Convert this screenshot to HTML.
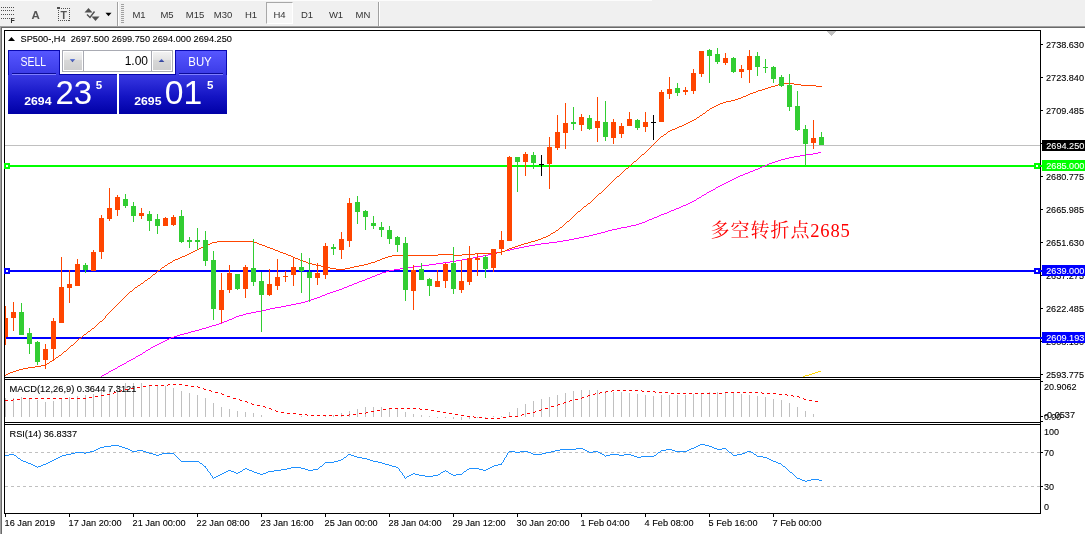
<!DOCTYPE html>
<html>
<head>
<meta charset="utf-8">
<title>SP500-,H4</title>
<style>
html,body{margin:0;padding:0;background:#fff;}
body{width:1085px;height:534px;position:relative;overflow:hidden;font-family:"Liberation Sans",sans-serif;font-size:9px;color:#000;}
#toolbar{position:absolute;left:0;top:0;width:1085px;height:26px;background:#f0f0f0;border-top:1px solid #f0f0f0;box-sizing:border-box;}
#hl{position:absolute;left:0;top:0;width:652px;height:1px;background:#fcfcfc;}
#sep1{position:absolute;left:0;top:26px;width:1085px;height:1px;background:#a0a0a0;}
#sep2{position:absolute;left:1px;top:27px;width:1084px;height:1px;background:#696969;}
#lb1{position:absolute;left:0;top:26px;width:1px;height:508px;background:#a0a0a0;}
#lb2{position:absolute;left:1px;top:27px;width:1px;height:507px;background:#696969;}
.tf{position:absolute;top:2px;height:22px;width:28px;line-height:24px;text-align:center;color:#333;font-size:9.5px;box-sizing:border-box;}
.tf.on{top:1px;border:1px solid;border-color:#a8a8a8 #fff #fff #a8a8a8;background:#f7f7f7;line-height:24px;}
.vsep{position:absolute;top:1px;width:1px;height:25px;background:#a0a0a0;box-shadow:1px 0 0 #fff;}
#grip{position:absolute;left:121px;top:3px;width:3px;height:19px;background:repeating-linear-gradient(to bottom,#a0a0a0 0,#a0a0a0 1px,#f0f0f0 1px,#f0f0f0 2px);}
</style>
</head>
<body>
<div id="toolbar">
  <svg width="120" height="26" style="position:absolute;left:0;top:-1px">
    <g stroke="#505050" stroke-width="1" stroke-dasharray="1 1" shape-rendering="crispEdges">
      <line x1="1" y1="7.5" x2="15" y2="7.5"/><line x1="1" y1="10.5" x2="15" y2="10.5"/><line x1="1" y1="14.5" x2="15" y2="14.5"/><line x1="1" y1="18.5" x2="11" y2="18.5"/>
    </g>
    <text x="10.5" y="22.6" font-family="'Liberation Sans',sans-serif" font-size="7px" font-weight="bold" fill="#303030">F</text>
    <text x="31.6" y="18.6" font-family="'Liberation Sans',sans-serif" font-size="11.5px" font-weight="bold" fill="#555">A</text>
    <rect x="58.5" y="8.5" width="11" height="12" fill="none" stroke="#505050" stroke-dasharray="1 1" shape-rendering="crispEdges"/>
    <rect x="57" y="7" width="3" height="2" fill="#505050"/>
    <text x="60.6" y="19" font-family="'Liberation Sans',sans-serif" font-size="10.5px" font-weight="bold" fill="#555">T</text>
    <polygon points="84.5,12.5 92.5,12.5 88.5,8" fill="#505050"/>
    <polygon points="91.5,16.5 99.5,16.5 95.5,21" fill="#505050"/>
    <polyline points="87,14.5 90,17.5 94.5,11.5" fill="none" stroke="#505050" stroke-width="1.4"/>
    <polygon points="105.5,12.8 111.5,12.8 108.5,16.3" fill="#000"/>
  </svg>
  <div class="vsep" style="left:117px"></div>
  <div id="grip"></div>
  <div class="tf" style="left:125px">M1</div>
  <div class="tf" style="left:153px">M5</div>
  <div class="tf" style="left:181px">M15</div>
  <div class="tf" style="left:209px">M30</div>
  <div class="tf" style="left:237px">H1</div>
  <div class="tf on" style="left:266px;width:27px">H4</div>
  <div class="tf" style="left:293px">D1</div>
  <div class="tf" style="left:322px">W1</div>
  <div class="tf" style="left:349px">MN</div>
  <div class="vsep" style="left:378px"></div>
</div>
<div id="hl"></div><div id="sep1"></div><div id="sep2"></div><div id="lb1"></div><div id="lb2"></div>
<svg class="chart" width="1085" height="534" viewBox="0 0 1085 534" style="position:absolute;left:0;top:0" font-family="'Liberation Sans', sans-serif" font-size="9.5px">
<defs><clipPath id="cm"><rect x="5" y="31" width="1035" height="346"/></clipPath><clipPath id="cd"><rect x="5" y="380" width="1035" height="42"/></clipPath><clipPath id="cr"><rect x="5" y="425" width="1035" height="88"/></clipPath></defs>
<g clip-path="url(#cm)" shape-rendering="crispEdges">
<rect x="5" y="145" width="1035" height="1" fill="#c0c0c0"/>
<rect x="5" y="165" width="1035" height="2" fill="#00ff00"/>
<rect x="5" y="270" width="1035" height="2" fill="#0000ff"/>
<rect x="5" y="337" width="1035" height="2" fill="#0000ff"/>
<polygon points="827,31 836,31 831.5,36" fill="#c0c0c0"/>
<path d="M101 376h1v1h-1zM102 375h2v1h-2zM104 374h2v1h-2zM106 373h2v1h-2zM108 372h1v1h-1zM109 371h2v1h-2zM111 370h2v1h-2zM113 369h2v1h-2zM115 368h2v1h-2zM117 367h1v1h-1zM118 366h2v1h-2zM120 365h2v1h-2zM122 364h2v1h-2zM124 363h2v1h-2zM126 362h1v1h-1zM127 361h2v1h-2zM129 360h2v1h-2zM131 359h2v1h-2zM133 358h2v1h-2zM135 357h1v1h-1zM136 356h2v1h-2zM138 355h2v1h-2zM140 354h2v1h-2zM142 353h1v1h-1zM143 352h2v1h-2zM145 351h1v1h-1zM146 350h2v1h-2zM148 349h2v1h-2zM150 348h1v1h-1zM151 347h2v1h-2zM153 346h2v1h-2zM155 345h2v1h-2zM157 344h2v1h-2zM159 343h2v1h-2zM161 342h2v1h-2zM163 341h2v1h-2zM165 340h2v1h-2zM167 339h2v1h-2zM169 338h2v1h-2zM171 337h3v1h-3zM174 336h3v1h-3zM177 335h3v1h-3zM180 334h4v1h-4zM184 333h4v1h-4zM188 332h3v1h-3zM191 331h4v1h-4zM195 330h4v1h-4zM199 329h3v1h-3zM202 328h4v1h-4zM206 327h3v1h-3zM209 326h3v1h-3zM212 325h4v1h-4zM216 324h3v1h-3zM219 323h3v1h-3zM222 322h2v1h-2zM224 321h3v1h-3zM227 320h2v1h-2zM229 319h3v1h-3zM232 318h2v1h-2zM234 317h2v1h-2zM236 316h3v1h-3zM239 315h4v1h-4zM243 314h3v1h-3zM246 313h5v1h-5zM251 312h5v1h-5zM256 311h5v1h-5zM261 310h5v1h-5zM266 309h4v1h-4zM270 308h5v1h-5zM275 307h6v1h-6zM281 306h5v1h-5zM286 305h5v1h-5zM291 304h5v1h-5zM296 303h5v1h-5zM301 302h4v1h-4zM305 301h3v1h-3zM308 300h3v1h-3zM311 299h3v1h-3zM314 298h3v1h-3zM317 297h3v1h-3zM320 296h2v1h-2zM322 295h3v1h-3zM325 294h2v1h-2zM327 293h3v1h-3zM330 292h3v1h-3zM333 291h3v1h-3zM336 290h3v1h-3zM339 289h3v1h-3zM342 288h2v1h-2zM344 287h3v1h-3zM347 286h2v1h-2zM349 285h3v1h-3zM352 284h2v1h-2zM354 283h3v1h-3zM357 282h2v1h-2zM359 281h3v1h-3zM362 280h3v1h-3zM365 279h2v1h-2zM367 278h3v1h-3zM370 277h2v1h-2zM372 276h3v1h-3zM375 275h2v1h-2zM377 274h3v1h-3zM380 273h2v1h-2zM382 272h4v1h-4zM386 271h3v1h-3zM389 270h5v1h-5zM394 269h6v1h-6zM400 268h6v1h-6zM406 267h7v1h-7zM413 266h8v1h-8zM421 265h8v1h-8zM429 264h7v1h-7zM436 263h7v1h-7zM443 262h7v1h-7zM450 261h6v1h-6zM456 260h6v1h-6zM462 259h6v1h-6zM468 258h5v1h-5zM473 257h5v1h-5zM478 256h5v1h-5zM483 255h5v1h-5zM488 254h4v1h-4zM492 253h4v1h-4zM496 252h5v1h-5zM501 251h4v1h-4zM505 250h5v1h-5zM510 249h4v1h-4zM514 248h5v1h-5zM519 247h5v1h-5zM524 246h5v1h-5zM529 245h6v1h-6zM535 244h6v1h-6zM541 243h8v1h-8zM549 242h8v1h-8zM557 241h6v1h-6zM563 240h6v1h-6zM569 239h5v1h-5zM574 238h5v1h-5zM579 237h5v1h-5zM584 236h5v1h-5zM589 235h4v1h-4zM593 234h4v1h-4zM597 233h4v1h-4zM601 232h4v1h-4zM605 231h3v1h-3zM608 230h4v1h-4zM612 229h5v1h-5zM617 228h4v1h-4zM621 227h6v1h-6zM627 226h4v1h-4zM631 225h5v1h-5zM636 224h3v1h-3zM639 223h3v1h-3zM642 222h3v1h-3zM645 221h2v1h-2zM647 220h2v1h-2zM649 219h3v1h-3zM652 218h2v1h-2zM654 217h3v1h-3zM657 216h2v1h-2zM659 215h2v1h-2zM661 214h3v1h-3zM664 213h3v1h-3zM667 212h2v1h-2zM669 211h2v1h-2zM671 210h3v1h-3zM674 209h2v1h-2zM676 208h3v1h-3zM679 207h2v1h-2zM681 206h2v1h-2zM683 205h3v1h-3zM686 204h2v1h-2zM688 203h2v1h-2zM690 202h2v1h-2zM692 201h2v1h-2zM694 200h2v1h-2zM696 199h1v1h-1zM697 198h2v1h-2zM699 197h2v1h-2zM701 196h1v1h-1zM702 195h2v1h-2zM704 194h2v1h-2zM706 193h1v1h-1zM707 192h2v1h-2zM709 191h2v1h-2zM711 190h2v1h-2zM713 189h2v1h-2zM715 188h1v1h-1zM716 187h2v1h-2zM718 186h2v1h-2zM720 185h2v1h-2zM722 184h2v1h-2zM724 183h2v1h-2zM726 182h2v1h-2zM728 181h2v1h-2zM730 180h2v1h-2zM732 179h2v1h-2zM734 178h2v1h-2zM736 177h2v1h-2zM738 176h2v1h-2zM740 175h3v1h-3zM743 174h2v1h-2zM745 173h3v1h-3zM748 172h2v1h-2zM750 171h3v1h-3zM753 170h2v1h-2zM755 169h3v1h-3zM758 168h2v1h-2zM760 167h2v1h-2zM762 166h3v1h-3zM765 165h2v1h-2zM767 164h2v1h-2zM769 163h3v1h-3zM772 162h3v1h-3zM775 161h3v1h-3zM778 160h3v1h-3zM781 159h4v1h-4zM785 158h4v1h-4zM789 157h5v1h-5zM794 156h6v1h-6zM800 155h6v1h-6zM806 154h7v1h-7zM813 153h5v1h-5zM818 152h3v1h-3z" fill="#ff00ff"/>
<path d="M4 375h2v1h-2zM6 374h2v1h-2zM8 373h2v1h-2zM10 372h3v1h-3zM13 371h3v1h-3zM16 370h3v1h-3zM19 369h4v1h-4zM23 368h5v1h-5zM28 367h7v1h-7zM35 366h6v1h-6zM41 365h5v1h-5zM46 364h1v1h-1zM47 363h2v1h-2zM49 362h1v1h-1zM50 361h2v1h-2zM52 360h2v1h-2zM54 359h1v1h-1zM55 358h1v1h-1zM56 357h2v1h-2zM58 356h1v1h-1zM59 355h2v1h-2zM61 354h1v1h-1zM62 353h1v1h-1zM63 352h1v1h-1zM64 351h2v1h-2zM66 350h1v1h-1zM67 349h1v1h-1zM68 348h1v1h-1zM69 347h1v1h-1zM70 346h1v1h-1zM71 345h2v1h-2zM73 344h1v1h-1zM74 343h1v1h-1zM75 342h1v1h-1zM76 341h1v1h-1zM77 340h1v1h-1zM78 339h1v1h-1zM79 338h2v1h-2zM81 337h1v1h-1zM82 336h1v1h-1zM83 335h1v1h-1zM84 334h2v1h-2zM86 333h1v1h-1zM87 332h1v1h-1zM88 331h2v1h-2zM90 330h1v1h-1zM91 329h1v1h-1zM92 328h2v1h-2zM94 327h1v1h-1zM95 326h1v1h-1zM96 325h1v1h-1zM97 324h1v1h-1zM98 323h1v1h-1zM99 322h1v1h-1zM100 321h2v1h-2zM102 320h1v1h-1zM103 319h1v1h-1zM104 318h1v1h-1zM105 316h1v2h-1zM106 315h1v1h-1zM107 314h1v1h-1zM108 313h1v1h-1zM109 312h1v1h-1zM110 311h1v1h-1zM111 310h1v1h-1zM112 309h1v1h-1zM113 308h1v1h-1zM114 307h1v1h-1zM115 306h1v1h-1zM116 305h1v1h-1zM117 304h1v1h-1zM118 303h1v1h-1zM119 302h1v1h-1zM120 301h1v1h-1zM121 300h1v1h-1zM122 299h1v1h-1zM123 298h1v1h-1zM124 297h1v1h-1zM125 296h1v1h-1zM126 295h1v1h-1zM127 294h1v1h-1zM128 293h1v1h-1zM129 292h1v1h-1zM130 291h2v1h-2zM132 290h1v1h-1zM133 289h1v1h-1zM134 288h1v1h-1zM135 287h2v1h-2zM137 286h1v1h-1zM138 285h2v1h-2zM140 284h1v1h-1zM141 283h2v1h-2zM143 282h1v1h-1zM144 281h1v1h-1zM145 280h2v1h-2zM147 279h1v1h-1zM148 278h2v1h-2zM150 277h1v1h-1zM151 276h1v1h-1zM152 275h1v1h-1zM153 274h2v1h-2zM155 273h1v1h-1zM156 272h1v1h-1zM157 271h1v1h-1zM158 270h2v1h-2zM160 269h1v1h-1zM161 268h1v1h-1zM162 267h2v1h-2zM164 266h1v1h-1zM165 265h2v1h-2zM167 264h1v1h-1zM168 263h2v1h-2zM170 262h2v1h-2zM172 261h1v1h-1zM173 260h2v1h-2zM175 259h3v1h-3zM178 258h2v1h-2zM180 257h2v1h-2zM182 256h3v1h-3zM185 255h2v1h-2zM187 254h2v1h-2zM189 253h2v1h-2zM191 252h2v1h-2zM193 251h2v1h-2zM195 250h2v1h-2zM197 249h2v1h-2zM199 248h2v1h-2zM201 247h2v1h-2zM203 246h2v1h-2zM205 245h2v1h-2zM207 244h3v1h-3zM210 243h2v1h-2zM212 242h5v1h-5zM217 241h37v1h-37zM254 242h3v1h-3zM257 243h2v1h-2zM259 244h3v1h-3zM262 245h3v1h-3zM265 246h2v1h-2zM267 247h3v1h-3zM270 248h3v1h-3zM273 249h2v1h-2zM275 250h3v1h-3zM278 251h2v1h-2zM280 252h3v1h-3zM283 253h3v1h-3zM286 254h2v1h-2zM288 255h3v1h-3zM291 256h2v1h-2zM293 257h2v1h-2zM295 258h3v1h-3zM298 259h2v1h-2zM300 260h3v1h-3zM303 261h3v1h-3zM306 262h2v1h-2zM308 263h4v1h-4zM312 264h4v1h-4zM316 265h5v1h-5zM321 266h5v1h-5zM326 267h4v1h-4zM330 268h6v1h-6zM336 269h9v1h-9zM345 268h5v1h-5zM350 267h4v1h-4zM354 266h5v1h-5zM359 265h5v1h-5zM364 264h4v1h-4zM368 263h3v1h-3zM371 262h4v1h-4zM375 261h2v1h-2zM377 260h3v1h-3zM380 259h2v1h-2zM382 258h3v1h-3zM385 257h3v1h-3zM388 256h4v1h-4zM392 255h46v1h-46zM438 254h15v1h-15zM453 255h9v1h-9zM462 254h13v1h-13zM475 253h22v1h-22zM497 252h5v1h-5zM502 251h3v1h-3zM505 250h2v1h-2zM507 249h2v1h-2zM509 248h3v1h-3zM512 247h3v1h-3zM515 246h3v1h-3zM518 245h3v1h-3zM521 244h3v1h-3zM524 243h4v1h-4zM528 242h3v1h-3zM531 241h4v1h-4zM535 240h3v1h-3zM538 239h3v1h-3zM541 238h2v1h-2zM543 237h3v1h-3zM546 236h2v1h-2zM548 235h2v1h-2zM550 234h1v1h-1zM551 233h2v1h-2zM553 232h2v1h-2zM555 231h1v1h-1zM556 230h2v1h-2zM558 229h1v1h-1zM559 228h1v1h-1zM560 227h2v1h-2zM562 226h1v1h-1zM563 225h1v1h-1zM564 224h1v1h-1zM565 223h1v1h-1zM566 222h1v1h-1zM567 221h2v1h-2zM569 220h1v1h-1zM570 219h1v1h-1zM571 218h1v1h-1zM572 217h1v1h-1zM573 216h1v1h-1zM574 215h1v1h-1zM575 214h1v1h-1zM576 213h1v1h-1zM577 212h1v1h-1zM578 211h2v1h-2zM580 210h1v1h-1zM581 209h1v1h-1zM582 208h1v1h-1zM583 207h1v1h-1zM584 206h2v1h-2zM586 205h1v1h-1zM587 204h1v1h-1zM588 203h2v1h-2zM590 202h1v1h-1zM591 201h1v1h-1zM592 200h1v1h-1zM593 199h1v1h-1zM594 198h1v1h-1zM595 197h1v1h-1zM596 196h1v1h-1zM597 195h1v1h-1zM598 194h1v1h-1zM599 193h2v1h-2zM601 192h1v1h-1zM602 191h1v1h-1zM603 190h1v1h-1zM604 189h1v1h-1zM605 188h1v1h-1zM606 187h1v1h-1zM607 186h1v1h-1zM608 185h1v1h-1zM609 184h1v1h-1zM610 183h1v1h-1zM611 182h1v1h-1zM612 181h1v1h-1zM613 180h1v1h-1zM614 179h1v1h-1zM615 178h1v1h-1zM616 177h1v1h-1zM617 176h2v1h-2zM619 175h1v1h-1zM620 174h1v1h-1zM621 173h1v1h-1zM622 172h1v1h-1zM623 171h1v1h-1zM624 170h1v1h-1zM625 169h1v1h-1zM626 168h2v1h-2zM628 167h1v1h-1zM629 166h1v1h-1zM630 165h1v1h-1zM631 164h1v1h-1zM632 163h1v1h-1zM633 162h1v1h-1zM634 161h2v1h-2zM636 160h1v1h-1zM637 159h1v1h-1zM638 158h1v1h-1zM639 157h1v1h-1zM640 156h1v1h-1zM641 155h1v1h-1zM642 154h2v1h-2zM644 153h1v1h-1zM645 152h1v1h-1zM646 151h1v1h-1zM647 150h1v1h-1zM648 149h1v1h-1zM649 148h1v1h-1zM650 147h1v1h-1zM651 146h1v1h-1zM652 145h1v1h-1zM653 144h1v1h-1zM654 143h1v1h-1zM655 142h1v1h-1zM656 141h1v1h-1zM657 140h1v1h-1zM658 139h1v1h-1zM659 138h1v1h-1zM660 137h1v1h-1zM661 136h2v1h-2zM663 135h1v1h-1zM664 134h2v1h-2zM666 133h1v1h-1zM667 132h1v1h-1zM668 131h2v1h-2zM670 130h2v1h-2zM672 129h3v1h-3zM675 128h2v1h-2zM677 127h2v1h-2zM679 126h3v1h-3zM682 125h2v1h-2zM684 124h2v1h-2zM686 123h2v1h-2zM688 122h2v1h-2zM690 121h2v1h-2zM692 120h2v1h-2zM694 119h2v1h-2zM696 118h1v1h-1zM697 117h2v1h-2zM699 116h1v1h-1zM700 115h2v1h-2zM702 114h1v1h-1zM703 113h2v1h-2zM705 112h1v1h-1zM706 111h1v1h-1zM707 110h2v1h-2zM709 109h1v1h-1zM710 108h2v1h-2zM712 107h2v1h-2zM714 106h2v1h-2zM716 105h2v1h-2zM718 104h2v1h-2zM720 103h3v1h-3zM723 102h3v1h-3zM726 101h5v1h-5zM731 100h4v1h-4zM735 99h3v1h-3zM738 98h3v1h-3zM741 97h2v1h-2zM743 96h3v1h-3zM746 95h2v1h-2zM748 94h2v1h-2zM750 93h3v1h-3zM753 92h3v1h-3zM756 91h2v1h-2zM758 90h4v1h-4zM762 89h3v1h-3zM765 88h3v1h-3zM768 87h3v1h-3zM771 86h4v1h-4zM775 85h3v1h-3zM778 84h5v1h-5zM783 83h11v1h-11zM794 84h7v1h-7zM801 85h15v1h-15zM816 86h6v1h-6z" fill="#ff4500"/>
<path d="M803 376h2v1h-2zM805 375h4v1h-4zM809 374h3v1h-3zM812 373h3v1h-3zM815 372h3v1h-3zM818 371h3v1h-3z" fill="#ffd700"/>
<rect x="5" y="306" width="1" height="39" fill="#ff4500"/>
<rect x="3" y="318" width="5" height="19" fill="#ff4500"/>
<rect x="13" y="302" width="1" height="29" fill="#ff4500"/>
<rect x="11" y="312" width="5" height="6" fill="#ff4500"/>
<rect x="21" y="303" width="1" height="32" fill="#32cd32"/>
<rect x="19" y="312" width="5" height="23" fill="#32cd32"/>
<rect x="29" y="328" width="1" height="26" fill="#32cd32"/>
<rect x="27" y="333" width="5" height="11" fill="#32cd32"/>
<rect x="37" y="341" width="1" height="24" fill="#32cd32"/>
<rect x="35" y="342" width="5" height="20" fill="#32cd32"/>
<rect x="45" y="344" width="1" height="25" fill="#ff4500"/>
<rect x="43" y="349" width="5" height="11" fill="#ff4500"/>
<rect x="53" y="318" width="1" height="42" fill="#ff4500"/>
<rect x="51" y="321" width="5" height="28" fill="#ff4500"/>
<rect x="61" y="257" width="1" height="66" fill="#ff4500"/>
<rect x="59" y="287" width="5" height="36" fill="#ff4500"/>
<rect x="69" y="270" width="1" height="33" fill="#ff4500"/>
<rect x="67" y="284" width="5" height="4" fill="#ff4500"/>
<rect x="77" y="259" width="1" height="27" fill="#ff4500"/>
<rect x="75" y="264" width="5" height="22" fill="#ff4500"/>
<rect x="85" y="263" width="1" height="10" fill="#32cd32"/>
<rect x="83" y="265" width="5" height="5" fill="#32cd32"/>
<rect x="93" y="250" width="1" height="21" fill="#ff4500"/>
<rect x="91" y="252" width="5" height="19" fill="#ff4500"/>
<rect x="101" y="215" width="1" height="44" fill="#ff4500"/>
<rect x="99" y="218" width="5" height="34" fill="#ff4500"/>
<rect x="109" y="188" width="1" height="33" fill="#ff4500"/>
<rect x="107" y="208" width="5" height="11" fill="#ff4500"/>
<rect x="117" y="195" width="1" height="21" fill="#ff4500"/>
<rect x="115" y="197" width="5" height="13" fill="#ff4500"/>
<rect x="125" y="194" width="1" height="14" fill="#32cd32"/>
<rect x="123" y="199" width="5" height="7" fill="#32cd32"/>
<rect x="133" y="202" width="1" height="20" fill="#32cd32"/>
<rect x="131" y="206" width="5" height="10" fill="#32cd32"/>
<rect x="141" y="208" width="1" height="11" fill="#ff4500"/>
<rect x="139" y="213" width="5" height="3" fill="#ff4500"/>
<rect x="149" y="211" width="1" height="20" fill="#32cd32"/>
<rect x="147" y="214" width="5" height="7" fill="#32cd32"/>
<rect x="157" y="214" width="1" height="20" fill="#32cd32"/>
<rect x="155" y="219" width="5" height="7" fill="#32cd32"/>
<rect x="165" y="217" width="1" height="9" fill="#ff4500"/>
<rect x="163" y="218" width="5" height="8" fill="#ff4500"/>
<rect x="173" y="215" width="1" height="11" fill="#ff4500"/>
<rect x="171" y="217" width="5" height="8" fill="#ff4500"/>
<rect x="181" y="210" width="1" height="33" fill="#32cd32"/>
<rect x="179" y="216" width="5" height="26" fill="#32cd32"/>
<rect x="189" y="237" width="1" height="11" fill="#32cd32"/>
<rect x="187" y="240" width="5" height="2" fill="#32cd32"/>
<rect x="197" y="228" width="1" height="22" fill="#32cd32"/>
<rect x="195" y="240" width="5" height="2" fill="#32cd32"/>
<rect x="205" y="231" width="1" height="35" fill="#32cd32"/>
<rect x="203" y="240" width="5" height="21" fill="#32cd32"/>
<rect x="213" y="251" width="1" height="69" fill="#32cd32"/>
<rect x="211" y="260" width="5" height="49" fill="#32cd32"/>
<rect x="221" y="273" width="1" height="50" fill="#ff4500"/>
<rect x="219" y="290" width="5" height="20" fill="#ff4500"/>
<rect x="229" y="265" width="1" height="28" fill="#ff4500"/>
<rect x="227" y="273" width="5" height="17" fill="#ff4500"/>
<rect x="237" y="274" width="1" height="16" fill="#32cd32"/>
<rect x="235" y="274" width="5" height="15" fill="#32cd32"/>
<rect x="245" y="265" width="1" height="33" fill="#ff4500"/>
<rect x="243" y="267" width="5" height="22" fill="#ff4500"/>
<rect x="253" y="239" width="1" height="47" fill="#32cd32"/>
<rect x="251" y="268" width="5" height="14" fill="#32cd32"/>
<rect x="261" y="272" width="1" height="60" fill="#32cd32"/>
<rect x="259" y="281" width="5" height="14" fill="#32cd32"/>
<rect x="269" y="269" width="1" height="27" fill="#ff4500"/>
<rect x="267" y="284" width="5" height="11" fill="#ff4500"/>
<rect x="277" y="259" width="1" height="31" fill="#ff4500"/>
<rect x="275" y="277" width="5" height="9" fill="#ff4500"/>
<rect x="285" y="271" width="1" height="11" fill="#ff4500"/>
<rect x="283" y="276" width="5" height="1" fill="#ff4500"/>
<rect x="293" y="258" width="1" height="28" fill="#ff4500"/>
<rect x="291" y="267" width="5" height="8" fill="#ff4500"/>
<rect x="301" y="253" width="1" height="40" fill="#32cd32"/>
<rect x="299" y="267" width="5" height="4" fill="#32cd32"/>
<rect x="309" y="258" width="1" height="44" fill="#32cd32"/>
<rect x="307" y="272" width="5" height="6" fill="#32cd32"/>
<rect x="317" y="263" width="1" height="22" fill="#ff4500"/>
<rect x="315" y="273" width="5" height="5" fill="#ff4500"/>
<rect x="325" y="243" width="1" height="36" fill="#ff4500"/>
<rect x="323" y="246" width="5" height="29" fill="#ff4500"/>
<rect x="333" y="244" width="1" height="11" fill="#32cd32"/>
<rect x="331" y="247" width="5" height="2" fill="#32cd32"/>
<rect x="341" y="232" width="1" height="27" fill="#ff4500"/>
<rect x="339" y="239" width="5" height="11" fill="#ff4500"/>
<rect x="349" y="198" width="1" height="49" fill="#ff4500"/>
<rect x="347" y="203" width="5" height="38" fill="#ff4500"/>
<rect x="357" y="196" width="1" height="28" fill="#32cd32"/>
<rect x="355" y="202" width="5" height="10" fill="#32cd32"/>
<rect x="365" y="210" width="1" height="20" fill="#32cd32"/>
<rect x="363" y="211" width="5" height="6" fill="#32cd32"/>
<rect x="373" y="216" width="1" height="13" fill="#32cd32"/>
<rect x="371" y="223" width="5" height="3" fill="#32cd32"/>
<rect x="381" y="222" width="1" height="15" fill="#32cd32"/>
<rect x="379" y="227" width="5" height="3" fill="#32cd32"/>
<rect x="389" y="226" width="1" height="18" fill="#32cd32"/>
<rect x="387" y="230" width="5" height="9" fill="#32cd32"/>
<rect x="397" y="236" width="1" height="16" fill="#32cd32"/>
<rect x="395" y="237" width="5" height="8" fill="#32cd32"/>
<rect x="405" y="237" width="1" height="64" fill="#32cd32"/>
<rect x="403" y="243" width="5" height="47" fill="#32cd32"/>
<rect x="413" y="265" width="1" height="45" fill="#ff4500"/>
<rect x="411" y="270" width="5" height="21" fill="#ff4500"/>
<rect x="421" y="263" width="1" height="17" fill="#32cd32"/>
<rect x="419" y="269" width="5" height="11" fill="#32cd32"/>
<rect x="429" y="278" width="1" height="18" fill="#32cd32"/>
<rect x="427" y="279" width="5" height="7" fill="#32cd32"/>
<rect x="437" y="270" width="1" height="17" fill="#ff4500"/>
<rect x="435" y="281" width="5" height="6" fill="#ff4500"/>
<rect x="445" y="263" width="1" height="25" fill="#ff4500"/>
<rect x="443" y="264" width="5" height="17" fill="#ff4500"/>
<rect x="453" y="247" width="1" height="47" fill="#32cd32"/>
<rect x="451" y="263" width="5" height="26" fill="#32cd32"/>
<rect x="461" y="260" width="1" height="33" fill="#ff4500"/>
<rect x="459" y="281" width="5" height="9" fill="#ff4500"/>
<rect x="469" y="246" width="1" height="39" fill="#ff4500"/>
<rect x="467" y="258" width="5" height="24" fill="#ff4500"/>
<rect x="477" y="254" width="1" height="22" fill="#ff4500"/>
<rect x="475" y="258" width="5" height="2" fill="#ff4500"/>
<rect x="485" y="255" width="1" height="23" fill="#32cd32"/>
<rect x="483" y="257" width="5" height="12" fill="#32cd32"/>
<rect x="493" y="249" width="1" height="23" fill="#ff4500"/>
<rect x="491" y="249" width="5" height="19" fill="#ff4500"/>
<rect x="501" y="231" width="1" height="24" fill="#ff4500"/>
<rect x="499" y="240" width="5" height="9" fill="#ff4500"/>
<rect x="509" y="156" width="1" height="85" fill="#ff4500"/>
<rect x="507" y="157" width="5" height="84" fill="#ff4500"/>
<rect x="517" y="157" width="1" height="35" fill="#32cd32"/>
<rect x="515" y="157" width="5" height="5" fill="#32cd32"/>
<rect x="525" y="152" width="1" height="24" fill="#ff4500"/>
<rect x="523" y="154" width="5" height="8" fill="#ff4500"/>
<rect x="533" y="152" width="1" height="17" fill="#32cd32"/>
<rect x="531" y="155" width="5" height="8" fill="#32cd32"/>
<rect x="541" y="155" width="1" height="21" fill="#000000"/>
<rect x="539" y="164" width="5" height="1" fill="#000000"/>
<rect x="549" y="137" width="1" height="52" fill="#ff4500"/>
<rect x="547" y="147" width="5" height="17" fill="#ff4500"/>
<rect x="557" y="115" width="1" height="35" fill="#ff4500"/>
<rect x="555" y="132" width="5" height="16" fill="#ff4500"/>
<rect x="565" y="103" width="1" height="46" fill="#ff4500"/>
<rect x="563" y="123" width="5" height="10" fill="#ff4500"/>
<rect x="573" y="107" width="1" height="23" fill="#32cd32"/>
<rect x="571" y="122" width="5" height="2" fill="#32cd32"/>
<rect x="581" y="114" width="1" height="17" fill="#ff4500"/>
<rect x="579" y="117" width="5" height="8" fill="#ff4500"/>
<rect x="589" y="115" width="1" height="15" fill="#32cd32"/>
<rect x="587" y="118" width="5" height="11" fill="#32cd32"/>
<rect x="597" y="97" width="1" height="45" fill="#ff4500"/>
<rect x="595" y="121" width="5" height="7" fill="#ff4500"/>
<rect x="605" y="101" width="1" height="40" fill="#32cd32"/>
<rect x="603" y="122" width="5" height="15" fill="#32cd32"/>
<rect x="613" y="119" width="1" height="25" fill="#ff4500"/>
<rect x="611" y="122" width="5" height="16" fill="#ff4500"/>
<rect x="621" y="123" width="1" height="15" fill="#ff4500"/>
<rect x="619" y="126" width="5" height="8" fill="#ff4500"/>
<rect x="629" y="112" width="1" height="14" fill="#ff4500"/>
<rect x="627" y="119" width="5" height="7" fill="#ff4500"/>
<rect x="637" y="119" width="1" height="11" fill="#32cd32"/>
<rect x="635" y="120" width="5" height="8" fill="#32cd32"/>
<rect x="645" y="112" width="1" height="20" fill="#ff4500"/>
<rect x="643" y="122" width="5" height="5" fill="#ff4500"/>
<rect x="653" y="115" width="1" height="25" fill="#000000"/>
<rect x="651" y="122" width="5" height="1" fill="#000000"/>
<rect x="661" y="90" width="1" height="32" fill="#ff4500"/>
<rect x="659" y="92" width="5" height="30" fill="#ff4500"/>
<rect x="669" y="77" width="1" height="22" fill="#ff4500"/>
<rect x="667" y="89" width="5" height="5" fill="#ff4500"/>
<rect x="677" y="83" width="1" height="13" fill="#32cd32"/>
<rect x="675" y="88" width="5" height="5" fill="#32cd32"/>
<rect x="685" y="87" width="1" height="8" fill="#ff4500"/>
<rect x="683" y="90" width="5" height="2" fill="#ff4500"/>
<rect x="693" y="69" width="1" height="25" fill="#ff4500"/>
<rect x="691" y="73" width="5" height="18" fill="#ff4500"/>
<rect x="701" y="51" width="1" height="26" fill="#ff4500"/>
<rect x="699" y="51" width="5" height="23" fill="#ff4500"/>
<rect x="709" y="49" width="1" height="34" fill="#32cd32"/>
<rect x="707" y="50" width="5" height="6" fill="#32cd32"/>
<rect x="717" y="48" width="1" height="16" fill="#32cd32"/>
<rect x="715" y="54" width="5" height="8" fill="#32cd32"/>
<rect x="725" y="53" width="1" height="12" fill="#ff4500"/>
<rect x="723" y="58" width="5" height="5" fill="#ff4500"/>
<rect x="733" y="57" width="1" height="16" fill="#32cd32"/>
<rect x="731" y="58" width="5" height="14" fill="#32cd32"/>
<rect x="741" y="65" width="1" height="13" fill="#ff4500"/>
<rect x="739" y="69" width="5" height="3" fill="#ff4500"/>
<rect x="749" y="50" width="1" height="33" fill="#ff4500"/>
<rect x="747" y="56" width="5" height="14" fill="#ff4500"/>
<rect x="757" y="52" width="1" height="24" fill="#32cd32"/>
<rect x="755" y="56" width="5" height="11" fill="#32cd32"/>
<rect x="765" y="59" width="1" height="14" fill="#32cd32"/>
<rect x="763" y="67" width="5" height="1" fill="#32cd32"/>
<rect x="773" y="66" width="1" height="17" fill="#32cd32"/>
<rect x="771" y="67" width="5" height="12" fill="#32cd32"/>
<rect x="781" y="75" width="1" height="12" fill="#32cd32"/>
<rect x="779" y="77" width="5" height="9" fill="#32cd32"/>
<rect x="789" y="74" width="1" height="37" fill="#32cd32"/>
<rect x="787" y="85" width="5" height="22" fill="#32cd32"/>
<rect x="797" y="91" width="1" height="40" fill="#32cd32"/>
<rect x="795" y="106" width="5" height="24" fill="#32cd32"/>
<rect x="805" y="125" width="1" height="41" fill="#32cd32"/>
<rect x="803" y="129" width="5" height="15" fill="#32cd32"/>
<rect x="813" y="120" width="1" height="29" fill="#ff4500"/>
<rect x="811" y="138" width="5" height="5" fill="#ff4500"/>
<rect x="821" y="132" width="1" height="13" fill="#32cd32"/>
<rect x="819" y="137" width="5" height="8" fill="#32cd32"/>
</g>
<g clip-path="url(#cd)" shape-rendering="crispEdges">
<rect x="5" y="398" width="1" height="19" fill="#c0c0c0"/>
<rect x="13" y="398" width="1" height="19" fill="#c0c0c0"/>
<rect x="21" y="397" width="1" height="20" fill="#c0c0c0"/>
<rect x="29" y="398" width="1" height="19" fill="#c0c0c0"/>
<rect x="37" y="400" width="1" height="17" fill="#c0c0c0"/>
<rect x="45" y="402" width="1" height="15" fill="#c0c0c0"/>
<rect x="53" y="401" width="1" height="16" fill="#c0c0c0"/>
<rect x="61" y="398" width="1" height="19" fill="#c0c0c0"/>
<rect x="69" y="397" width="1" height="20" fill="#c0c0c0"/>
<rect x="77" y="396" width="1" height="21" fill="#c0c0c0"/>
<rect x="85" y="395" width="1" height="22" fill="#c0c0c0"/>
<rect x="93" y="394" width="1" height="23" fill="#c0c0c0"/>
<rect x="101" y="391" width="1" height="26" fill="#c0c0c0"/>
<rect x="109" y="388" width="1" height="29" fill="#c0c0c0"/>
<rect x="117" y="385" width="1" height="32" fill="#c0c0c0"/>
<rect x="125" y="383" width="1" height="34" fill="#c0c0c0"/>
<rect x="133" y="383" width="1" height="34" fill="#c0c0c0"/>
<rect x="141" y="383" width="1" height="34" fill="#c0c0c0"/>
<rect x="149" y="385" width="1" height="32" fill="#c0c0c0"/>
<rect x="157" y="385" width="1" height="32" fill="#c0c0c0"/>
<rect x="165" y="386" width="1" height="31" fill="#c0c0c0"/>
<rect x="173" y="388" width="1" height="29" fill="#c0c0c0"/>
<rect x="181" y="391" width="1" height="26" fill="#c0c0c0"/>
<rect x="189" y="393" width="1" height="24" fill="#c0c0c0"/>
<rect x="197" y="395" width="1" height="22" fill="#c0c0c0"/>
<rect x="205" y="398" width="1" height="19" fill="#c0c0c0"/>
<rect x="213" y="403" width="1" height="14" fill="#c0c0c0"/>
<rect x="221" y="407" width="1" height="10" fill="#c0c0c0"/>
<rect x="229" y="409" width="1" height="8" fill="#c0c0c0"/>
<rect x="237" y="411" width="1" height="6" fill="#c0c0c0"/>
<rect x="245" y="412" width="1" height="5" fill="#c0c0c0"/>
<rect x="253" y="413" width="1" height="4" fill="#c0c0c0"/>
<rect x="261" y="415" width="1" height="2" fill="#c0c0c0"/>
<rect x="301" y="416" width="1" height="1" fill="#c0c0c0"/>
<rect x="325" y="416" width="1" height="1" fill="#c0c0c0"/>
<rect x="333" y="415" width="1" height="2" fill="#c0c0c0"/>
<rect x="341" y="413" width="1" height="4" fill="#c0c0c0"/>
<rect x="349" y="411" width="1" height="6" fill="#c0c0c0"/>
<rect x="357" y="409" width="1" height="8" fill="#c0c0c0"/>
<rect x="365" y="407" width="1" height="10" fill="#c0c0c0"/>
<rect x="373" y="407" width="1" height="10" fill="#c0c0c0"/>
<rect x="381" y="407" width="1" height="10" fill="#c0c0c0"/>
<rect x="389" y="408" width="1" height="9" fill="#c0c0c0"/>
<rect x="397" y="408" width="1" height="9" fill="#c0c0c0"/>
<rect x="405" y="412" width="1" height="5" fill="#c0c0c0"/>
<rect x="413" y="414" width="1" height="3" fill="#c0c0c0"/>
<rect x="421" y="415" width="1" height="2" fill="#c0c0c0"/>
<rect x="429" y="416" width="1" height="1" fill="#c0c0c0"/>
<rect x="437" y="417" width="1" height="1" fill="#c0c0c0"/>
<rect x="445" y="417" width="1" height="1" fill="#c0c0c0"/>
<rect x="453" y="417" width="1" height="2" fill="#c0c0c0"/>
<rect x="461" y="417" width="1" height="3" fill="#c0c0c0"/>
<rect x="469" y="417" width="1" height="2" fill="#c0c0c0"/>
<rect x="477" y="417" width="1" height="1" fill="#c0c0c0"/>
<rect x="485" y="417" width="1" height="1" fill="#c0c0c0"/>
<rect x="493" y="416" width="1" height="1" fill="#c0c0c0"/>
<rect x="501" y="416" width="1" height="1" fill="#c0c0c0"/>
<rect x="509" y="412" width="1" height="5" fill="#c0c0c0"/>
<rect x="517" y="408" width="1" height="9" fill="#c0c0c0"/>
<rect x="525" y="404" width="1" height="13" fill="#c0c0c0"/>
<rect x="533" y="401" width="1" height="16" fill="#c0c0c0"/>
<rect x="541" y="399" width="1" height="18" fill="#c0c0c0"/>
<rect x="549" y="397" width="1" height="20" fill="#c0c0c0"/>
<rect x="557" y="395" width="1" height="22" fill="#c0c0c0"/>
<rect x="565" y="393" width="1" height="24" fill="#c0c0c0"/>
<rect x="573" y="391" width="1" height="26" fill="#c0c0c0"/>
<rect x="581" y="390" width="1" height="27" fill="#c0c0c0"/>
<rect x="589" y="390" width="1" height="27" fill="#c0c0c0"/>
<rect x="597" y="390" width="1" height="27" fill="#c0c0c0"/>
<rect x="605" y="391" width="1" height="26" fill="#c0c0c0"/>
<rect x="613" y="392" width="1" height="25" fill="#c0c0c0"/>
<rect x="621" y="392" width="1" height="25" fill="#c0c0c0"/>
<rect x="629" y="393" width="1" height="24" fill="#c0c0c0"/>
<rect x="637" y="394" width="1" height="23" fill="#c0c0c0"/>
<rect x="645" y="395" width="1" height="22" fill="#c0c0c0"/>
<rect x="653" y="396" width="1" height="21" fill="#c0c0c0"/>
<rect x="661" y="395" width="1" height="22" fill="#c0c0c0"/>
<rect x="669" y="395" width="1" height="22" fill="#c0c0c0"/>
<rect x="677" y="395" width="1" height="22" fill="#c0c0c0"/>
<rect x="685" y="395" width="1" height="22" fill="#c0c0c0"/>
<rect x="693" y="394" width="1" height="23" fill="#c0c0c0"/>
<rect x="701" y="393" width="1" height="24" fill="#c0c0c0"/>
<rect x="709" y="392" width="1" height="25" fill="#c0c0c0"/>
<rect x="717" y="392" width="1" height="25" fill="#c0c0c0"/>
<rect x="725" y="392" width="1" height="25" fill="#c0c0c0"/>
<rect x="733" y="393" width="1" height="24" fill="#c0c0c0"/>
<rect x="741" y="394" width="1" height="23" fill="#c0c0c0"/>
<rect x="749" y="395" width="1" height="22" fill="#c0c0c0"/>
<rect x="757" y="396" width="1" height="21" fill="#c0c0c0"/>
<rect x="765" y="397" width="1" height="20" fill="#c0c0c0"/>
<rect x="773" y="399" width="1" height="18" fill="#c0c0c0"/>
<rect x="781" y="400" width="1" height="17" fill="#c0c0c0"/>
<rect x="789" y="403" width="1" height="14" fill="#c0c0c0"/>
<rect x="797" y="407" width="1" height="10" fill="#c0c0c0"/>
<rect x="805" y="411" width="1" height="6" fill="#c0c0c0"/>
<rect x="813" y="414" width="1" height="3" fill="#c0c0c0"/>
</g>
<g clip-path="url(#cd)" shape-rendering="crispEdges"><path d="M5 400h3v1h-3zM11 400h2v1h-2zM13 399h1v1h-1zM17 399h3v1h-3zM23 398h3v1h-3zM29 398h3v1h-3zM35 398h3v1h-3zM41 398h3v1h-3zM47 398h3v1h-3zM53 398h3v1h-3zM59 398h3v1h-3zM65 398h3v1h-3zM71 398h3v1h-3zM77 398h3v1h-3zM83 398h3v1h-3zM89 397h3v1h-3zM95 396h3v1h-3zM101 395h3v1h-3zM107 394h3v1h-3zM113 393h1v1h-1zM114 392h2v1h-2zM119 391h2v1h-2zM121 390h1v1h-1zM125 389h3v1h-3zM131 388h3v1h-3zM137 387h3v1h-3zM143 386h3v1h-3zM149 385h3v1h-3zM155 385h3v1h-3zM161 385h3v1h-3zM167 385h1v1h-1zM168 384h2v1h-2zM173 384h3v1h-3zM179 384h3v1h-3zM185 385h3v1h-3zM191 386h3v1h-3zM197 386h1v1h-1zM198 387h2v1h-2zM203 388h1v1h-1zM204 389h2v1h-2zM209 390h2v1h-2zM211 391h1v1h-1zM215 392h3v1h-3zM221 393h1v1h-1zM222 394h2v1h-2zM227 396h3v1h-3zM233 398h3v1h-3zM239 399h1v1h-1zM240 400h2v1h-2zM245 401h2v1h-2zM247 402h1v1h-1zM251 403h1v1h-1zM252 404h2v1h-2zM257 405h3v1h-3zM263 406h2v1h-2zM265 407h1v1h-1zM269 408h2v1h-2zM271 409h1v1h-1zM275 410h1v1h-1zM276 411h2v1h-2zM281 412h3v1h-3zM287 413h3v1h-3zM293 413h3v1h-3zM299 414h3v1h-3zM305 414h2v1h-2zM307 415h1v1h-1zM311 415h3v1h-3zM317 415h3v1h-3zM323 415h3v1h-3zM329 415h3v1h-3zM335 415h3v1h-3zM341 415h3v1h-3zM347 415h2v1h-2zM349 414h1v1h-1zM353 414h3v1h-3zM359 413h3v1h-3zM365 413h1v1h-1zM366 412h2v1h-2zM371 411h3v1h-3zM377 410h3v1h-3zM383 409h3v1h-3zM389 408h3v1h-3zM395 408h3v1h-3zM401 408h3v1h-3zM407 408h3v1h-3zM413 408h3v1h-3zM419 408h1v1h-1zM420 409h2v1h-2zM425 409h3v1h-3zM431 410h3v1h-3zM437 411h3v1h-3zM443 412h3v1h-3zM449 413h3v1h-3zM455 414h3v1h-3zM461 415h3v1h-3zM467 416h3v1h-3zM473 416h1v1h-1zM474 417h2v1h-2zM479 417h3v1h-3zM485 418h3v1h-3zM491 418h3v1h-3zM497 418h3v1h-3zM503 417h3v1h-3zM509 416h3v1h-3zM515 416h3v1h-3zM521 415h1v1h-1zM522 414h2v1h-2zM527 413h3v1h-3zM533 412h2v1h-2zM535 411h1v1h-1zM539 410h2v1h-2zM541 409h1v1h-1zM545 408h3v1h-3zM551 406h3v1h-3zM557 405h1v1h-1zM558 404h2v1h-2zM563 403h1v1h-1zM564 402h2v1h-2zM569 401h1v1h-1zM570 400h2v1h-2zM575 399h3v1h-3zM581 398h1v1h-1zM582 397h2v1h-2zM587 396h1v1h-1zM588 395h2v1h-2zM593 394h2v1h-2zM595 393h1v1h-1zM599 393h1v1h-1zM600 392h2v1h-2zM605 392h1v1h-1zM606 391h2v1h-2zM611 391h1v1h-1zM612 390h2v1h-2zM617 390h3v1h-3zM623 390h3v1h-3zM629 390h3v1h-3zM635 390h3v1h-3zM641 390h1v1h-1zM642 391h2v1h-2zM647 391h3v1h-3zM653 391h2v1h-2zM655 392h1v1h-1zM659 392h3v1h-3zM665 392h3v1h-3zM671 393h3v1h-3zM677 393h3v1h-3zM683 393h3v1h-3zM689 393h3v1h-3zM695 393h3v1h-3zM701 393h3v1h-3zM707 393h3v1h-3zM713 393h3v1h-3zM719 393h3v1h-3zM725 392h3v1h-3zM731 392h3v1h-3zM737 392h3v1h-3zM743 392h3v1h-3zM749 392h3v1h-3zM755 392h3v1h-3zM761 392h1v1h-1zM762 393h2v1h-2zM767 393h3v1h-3zM773 393h3v1h-3zM779 394h3v1h-3zM785 394h2v1h-2zM787 395h1v1h-1zM791 395h2v1h-2zM793 396h1v1h-1zM797 396h2v1h-2zM799 397h1v1h-1zM803 398h1v1h-1zM804 399h2v1h-2zM809 400h3v1h-3zM815 401h3v1h-3z" fill="#ff0000"/></g>
<g clip-path="url(#cr)" fill="none">
<line x1="5" y1="452.5" x2="1040" y2="452.5" stroke="#c0c0c0" stroke-dasharray="3 3" shape-rendering="crispEdges"/>
<line x1="5" y1="486.5" x2="1040" y2="486.5" stroke="#c0c0c0" stroke-dasharray="3 3" shape-rendering="crispEdges"/>
<g shape-rendering="crispEdges"><path d="M5 455h4v1h-4zM9 454h5v1h-5zM14 455h2v1h-2zM16 456h1v1h-1zM17 457h1v1h-1zM18 458h2v1h-2zM20 459h1v1h-1zM21 460h2v1h-2zM23 461h3v1h-3zM26 462h2v1h-2zM28 463h3v1h-3zM31 464h2v1h-2zM33 465h2v1h-2zM35 466h2v1h-2zM37 467h1v1h-1zM38 466h3v1h-3zM41 465h2v1h-2zM43 464h3v1h-3zM46 463h2v1h-2zM48 462h2v1h-2zM50 461h2v1h-2zM52 460h2v1h-2zM54 459h2v1h-2zM56 458h2v1h-2zM58 457h2v1h-2zM60 456h2v1h-2zM62 455h4v1h-4zM66 454h5v1h-5zM71 453h4v1h-4zM75 452h9v1h-9zM84 453h2v1h-2zM86 452h4v1h-4zM90 451h4v1h-4zM94 450h2v1h-2zM96 449h2v1h-2zM98 448h2v1h-2zM100 447h4v1h-4zM104 446h7v1h-7zM111 445h8v1h-8zM119 446h3v1h-3zM122 447h3v1h-3zM125 448h3v1h-3zM128 449h2v1h-2zM130 450h2v1h-2zM132 451h5v1h-5zM137 450h6v1h-6zM143 451h3v1h-3zM146 452h3v1h-3zM149 453h4v1h-4zM153 454h3v1h-3zM156 455h3v1h-3zM159 454h3v1h-3zM162 453h12v1h-12zM174 454h1v1h-1zM175 455h1v1h-1zM176 456h1v1h-1zM177 457h1v1h-1zM178 458h1v1h-1zM179 459h1v1h-1zM180 460h1v1h-1zM181 461h18v1h-18zM199 462h1v1h-1zM200 463h2v1h-2zM202 464h1v1h-1zM203 465h1v1h-1zM204 466h1v1h-1zM205 466h1v2h-1zM206 468h1v1h-1zM207 469h1v2h-1zM208 471h1v1h-1zM209 472h1v1h-1zM210 473h1v2h-1zM211 475h1v1h-1zM212 476h1v2h-1zM213 478h1v1h-1zM214 477h2v1h-2zM216 476h2v1h-2zM218 475h2v1h-2zM220 474h2v1h-2zM222 473h2v1h-2zM224 472h2v1h-2zM226 471h2v1h-2zM228 470h3v1h-3zM231 471h3v1h-3zM234 472h2v1h-2zM236 473h2v1h-2zM238 472h2v1h-2zM240 471h2v1h-2zM242 470h1v1h-1zM243 469h2v1h-2zM245 468h2v1h-2zM247 469h2v1h-2zM249 470h3v1h-3zM252 471h2v1h-2zM254 472h3v1h-3zM257 473h3v1h-3zM260 474h3v1h-3zM263 473h3v1h-3zM266 472h2v1h-2zM268 471h6v1h-6zM274 470h7v1h-7zM281 469h6v1h-6zM287 468h4v1h-4zM291 467h10v1h-10zM301 468h4v1h-4zM305 469h3v1h-3zM308 470h5v1h-5zM313 469h5v1h-5zM318 468h1v1h-1zM319 467h1v1h-1zM320 466h2v1h-2zM322 465h1v1h-1zM323 464h1v1h-1zM324 463h1v1h-1zM325 462h9v1h-9zM334 461h4v1h-4zM338 460h3v1h-3zM341 459h2v1h-2zM343 458h1v1h-1zM344 457h2v1h-2zM346 456h1v1h-1zM347 455h1v1h-1zM348 454h3v1h-3zM351 455h3v1h-3zM354 456h3v1h-3zM357 457h5v1h-5zM362 458h5v1h-5zM367 459h3v1h-3zM370 460h3v1h-3zM373 461h5v1h-5zM378 462h4v1h-4zM382 463h3v1h-3zM385 464h4v1h-4zM389 465h3v1h-3zM392 466h4v1h-4zM396 467h2v1h-2zM398 468h1v1h-1zM399 469h1v2h-1zM400 471h1v1h-1zM401 472h1v1h-1zM402 473h1v2h-1zM403 475h1v1h-1zM404 476h1v2h-1zM405 478h1v1h-1zM406 477h1v1h-1zM407 476h2v1h-2zM409 475h2v1h-2zM411 474h2v1h-2zM413 473h2v1h-2zM415 474h4v1h-4zM419 475h6v1h-6zM425 476h8v1h-8zM433 475h5v1h-5zM438 474h2v1h-2zM440 473h1v1h-1zM441 472h2v1h-2zM443 471h2v1h-2zM445 470h1v1h-1zM446 471h2v1h-2zM448 472h1v1h-1zM449 473h2v1h-2zM451 474h2v1h-2zM453 475h3v1h-3zM456 474h6v1h-6zM462 473h1v1h-1zM463 472h1v1h-1zM464 471h2v1h-2zM466 470h1v1h-1zM467 469h2v1h-2zM469 468h10v1h-10zM479 469h4v1h-4zM483 470h3v1h-3zM486 469h2v1h-2zM488 468h2v1h-2zM490 467h2v1h-2zM492 466h2v1h-2zM494 465h4v1h-4zM498 464h3v1h-3zM501 463h1v2h-1zM502 462h1v1h-1zM503 460h1v2h-1zM504 458h1v2h-1zM505 457h1v1h-1zM506 455h1v2h-1zM507 453h1v2h-1zM508 452h1v1h-1zM509 451h6v1h-6zM515 452h5v1h-5zM520 451h8v1h-8zM528 452h3v1h-3zM531 453h2v1h-2zM533 454h9v1h-9zM542 453h4v1h-4zM546 452h5v1h-5zM551 451h4v1h-4zM555 450h5v1h-5zM560 449h16v1h-16zM576 448h7v1h-7zM583 449h2v1h-2zM585 450h2v1h-2zM587 451h2v1h-2zM589 452h4v1h-4zM593 451h5v1h-5zM598 452h2v1h-2zM600 453h2v1h-2zM602 454h2v1h-2zM604 455h1v1h-1zM605 456h1v1h-1zM606 455h4v1h-4zM610 454h9v1h-9zM619 455h5v1h-5zM624 454h7v1h-7zM631 455h3v1h-3zM634 456h3v1h-3zM637 457h4v1h-4zM641 456h13v1h-13zM654 455h2v1h-2zM656 454h1v1h-1zM657 453h1v1h-1zM658 452h2v1h-2zM660 451h1v1h-1zM661 450h5v1h-5zM666 449h6v1h-6zM672 450h3v1h-3zM675 451h12v1h-12zM687 450h2v1h-2zM689 449h2v1h-2zM691 448h3v1h-3zM694 447h2v1h-2zM696 446h2v1h-2zM698 445h2v1h-2zM700 444h5v1h-5zM705 445h4v1h-4zM709 446h3v1h-3zM712 447h2v1h-2zM714 448h3v1h-3zM717 449h5v1h-5zM722 448h4v1h-4zM726 449h1v1h-1zM727 450h1v1h-1zM728 451h1v1h-1zM729 452h2v1h-2zM731 453h1v1h-1zM732 454h1v1h-1zM733 455h4v1h-4zM737 454h5v1h-5zM742 453h3v1h-3zM745 452h2v1h-2zM747 451h4v1h-4zM751 452h2v1h-2zM753 453h1v1h-1zM754 454h2v1h-2zM756 455h1v1h-1zM757 456h6v1h-6zM763 457h4v1h-4zM767 458h2v1h-2zM769 459h2v1h-2zM771 460h2v1h-2zM773 461h3v1h-3zM776 462h2v1h-2zM778 463h3v1h-3zM781 464h1v1h-1zM782 465h1v1h-1zM783 466h2v1h-2zM785 467h1v1h-1zM786 468h1v1h-1zM787 469h1v1h-1zM788 470h1v1h-1zM789 471h1v1h-1zM790 472h2v1h-2zM792 473h1v1h-1zM793 474h1v1h-1zM794 475h1v1h-1zM795 476h1v1h-1zM796 477h1v1h-1zM797 478h3v1h-3zM800 479h2v1h-2zM802 480h3v1h-3zM805 481h2v1h-2zM807 480h4v1h-4zM811 479h8v1h-8zM819 480h3v1h-3z" fill="#1e90ff"/></g>
</g>
<g shape-rendering="crispEdges" fill="#000">
<rect x="4" y="30" width="1" height="484"/>
<rect x="1040" y="30" width="1" height="484"/>
<rect x="4" y="30" width="1037" height="1"/>
<rect x="4" y="377" width="1037" height="1"/>
<rect x="4" y="379" width="1037" height="1"/>
<rect x="4" y="422" width="1037" height="1"/>
<rect x="4" y="424" width="1037" height="1"/>
<rect x="4" y="513" width="1037" height="1"/>
<rect x="1041" y="44" width="2" height="1"/>
<rect x="1041" y="77" width="2" height="1"/>
<rect x="1041" y="110" width="2" height="1"/>
<rect x="1041" y="143" width="2" height="1"/>
<rect x="1041" y="176" width="2" height="1"/>
<rect x="1041" y="209" width="2" height="1"/>
<rect x="1041" y="242" width="2" height="1"/>
<rect x="1041" y="275" width="2" height="1"/>
<rect x="1041" y="308" width="2" height="1"/>
<rect x="1041" y="341" width="2" height="1"/>
<rect x="1041" y="374" width="2" height="1"/>
<rect x="1041" y="452" width="2" height="1"/>
<rect x="1041" y="486" width="2" height="1"/>
<rect x="1041" y="381" width="2" height="1"/>
<rect x="1041" y="416" width="2" height="1"/>
<rect x="1041" y="421" width="2" height="1"/>
<rect x="5" y="514" width="1" height="3"/>
<rect x="69" y="514" width="1" height="3"/>
<rect x="133" y="514" width="1" height="3"/>
<rect x="197" y="514" width="1" height="3"/>
<rect x="261" y="514" width="1" height="3"/>
<rect x="325" y="514" width="1" height="3"/>
<rect x="389" y="514" width="1" height="3"/>
<rect x="453" y="514" width="1" height="3"/>
<rect x="517" y="514" width="1" height="3"/>
<rect x="581" y="514" width="1" height="3"/>
<rect x="645" y="514" width="1" height="3"/>
<rect x="709" y="514" width="1" height="3"/>
<rect x="773" y="514" width="1" height="3"/>
</g>
<g shape-rendering="crispEdges">
<rect x="4" y="163" width="6" height="6" fill="#00ff00"/><rect x="6" y="165" width="2" height="2" fill="#fff"/>
<rect x="1034" y="163" width="6" height="6" fill="#00ff00"/><rect x="1036" y="165" width="2" height="2" fill="#fff"/>
<rect x="4" y="268" width="6" height="6" fill="#0000ff"/><rect x="6" y="270" width="2" height="2" fill="#fff"/>
<rect x="1034" y="268" width="6" height="6" fill="#0000ff"/><rect x="1036" y="270" width="2" height="2" fill="#fff"/>
</g>
<text x="1046" y="47.6" textLength="38" lengthAdjust="spacingAndGlyphs" stroke="#000" stroke-width="0.1">2738.630</text>
<text x="1046" y="80.6" textLength="38" lengthAdjust="spacingAndGlyphs" stroke="#000" stroke-width="0.1">2723.840</text>
<text x="1046" y="113.6" textLength="38" lengthAdjust="spacingAndGlyphs" stroke="#000" stroke-width="0.1">2709.485</text>
<text x="1046" y="179.6" textLength="38" lengthAdjust="spacingAndGlyphs" stroke="#000" stroke-width="0.1">2680.775</text>
<text x="1046" y="212.6" textLength="38" lengthAdjust="spacingAndGlyphs" stroke="#000" stroke-width="0.1">2665.985</text>
<text x="1046" y="245.6" textLength="38" lengthAdjust="spacingAndGlyphs" stroke="#000" stroke-width="0.1">2651.630</text>
<text x="1046" y="278.6" textLength="38" lengthAdjust="spacingAndGlyphs" stroke="#000" stroke-width="0.1">2637.275</text>
<text x="1046" y="311.6" textLength="38" lengthAdjust="spacingAndGlyphs" stroke="#000" stroke-width="0.1">2622.485</text>
<text x="1046" y="344.6" textLength="38" lengthAdjust="spacingAndGlyphs" stroke="#000" stroke-width="0.1">2608.130</text>
<text x="1046" y="377.6" textLength="38" lengthAdjust="spacingAndGlyphs" stroke="#000" stroke-width="0.1">2593.775</text>
<rect x="1042" y="140" width="43" height="11" fill="#000" shape-rendering="crispEdges"/>
<text x="1046.3" y="148.7" fill="#fff" textLength="38" lengthAdjust="spacingAndGlyphs" stroke="#fff" stroke-width="0.1">2694.250</text>
<rect x="1042" y="160" width="43" height="11" fill="#00ff00" shape-rendering="crispEdges"/>
<text x="1046.3" y="168.7" fill="#fff" textLength="38" lengthAdjust="spacingAndGlyphs" stroke="#fff" stroke-width="0.1">2685.000</text>
<rect x="1042" y="265" width="43" height="11" fill="#0000ff" shape-rendering="crispEdges"/>
<text x="1046.3" y="273.7" fill="#fff" textLength="38" lengthAdjust="spacingAndGlyphs" stroke="#fff" stroke-width="0.1">2639.000</text>
<rect x="1042" y="332" width="43" height="11" fill="#0000ff" shape-rendering="crispEdges"/>
<text x="1046.3" y="340.7" fill="#fff" textLength="38" lengthAdjust="spacingAndGlyphs" stroke="#fff" stroke-width="0.1">2609.193</text>
<rect x="1040" y="165" width="2" height="2" fill="#00ff00" shape-rendering="crispEdges"/>
<rect x="1040" y="270" width="2" height="2" fill="#0000ff" shape-rendering="crispEdges"/>
<rect x="1040" y="337" width="2" height="2" fill="#0000ff" shape-rendering="crispEdges"/>
<text x="1044" y="390" textLength="32.6" lengthAdjust="spacingAndGlyphs" stroke="#000" stroke-width="0.1">20.9062</text>
<text x="1044" y="417.7" textLength="31" lengthAdjust="spacingAndGlyphs" stroke="#000" stroke-width="0.1">-0.0537</text>
<text x="1044" y="419.5" textLength="17" lengthAdjust="spacingAndGlyphs" stroke="#000" stroke-width="0.1">0.00</text>
<text transform="translate(1044.00,434.50) scale(0.950,1)" fill="#000" font-size="9.5px"  stroke="#000" stroke-width="0.1">100</text>
<text transform="translate(1044.00,455.50) scale(0.950,1)" fill="#000" font-size="9.5px"  stroke="#000" stroke-width="0.1">70</text>
<text transform="translate(1044.00,489.50) scale(0.950,1)" fill="#000" font-size="9.5px"  stroke="#000" stroke-width="0.1">30</text>
<text transform="translate(1044.00,509.80) scale(0.950,1)" fill="#000" font-size="9.5px"  stroke="#000" stroke-width="0.1">0</text>
<polygon points="8,41 15,41 11.5,37" fill="#000"/>
<text x="20.5" y="42" textLength="211.5" lengthAdjust="spacingAndGlyphs" xml:space="preserve" stroke="#000" stroke-width="0.1">SP500-,H4  2697.500 2699.750 2694.000 2694.250</text>
<text x="9.5" y="391.5" textLength="127" lengthAdjust="spacingAndGlyphs" stroke="#000" stroke-width="0.1">MACD(12,26,9) 0.3644 7.3121</text>
<text x="9.5" y="436.7" textLength="67.5" lengthAdjust="spacingAndGlyphs" stroke="#000" stroke-width="0.1">RSI(14) 36.8337</text>
<text transform="translate(4.60,526.00) scale(0.965,1)" fill="#000" font-size="9.5px"  stroke="#000" stroke-width="0.1">16 Jan 2019</text>
<text transform="translate(68.60,526.00) scale(0.965,1)" fill="#000" font-size="9.5px"  stroke="#000" stroke-width="0.1">17 Jan 20:00</text>
<text transform="translate(132.60,526.00) scale(0.965,1)" fill="#000" font-size="9.5px"  stroke="#000" stroke-width="0.1">21 Jan 00:00</text>
<text transform="translate(196.60,526.00) scale(0.965,1)" fill="#000" font-size="9.5px"  stroke="#000" stroke-width="0.1">22 Jan 08:00</text>
<text transform="translate(260.60,526.00) scale(0.965,1)" fill="#000" font-size="9.5px"  stroke="#000" stroke-width="0.1">23 Jan 16:00</text>
<text transform="translate(324.60,526.00) scale(0.965,1)" fill="#000" font-size="9.5px"  stroke="#000" stroke-width="0.1">25 Jan 00:00</text>
<text transform="translate(388.60,526.00) scale(0.965,1)" fill="#000" font-size="9.5px"  stroke="#000" stroke-width="0.1">28 Jan 04:00</text>
<text transform="translate(452.60,526.00) scale(0.965,1)" fill="#000" font-size="9.5px"  stroke="#000" stroke-width="0.1">29 Jan 12:00</text>
<text transform="translate(516.60,526.00) scale(0.965,1)" fill="#000" font-size="9.5px"  stroke="#000" stroke-width="0.1">30 Jan 20:00</text>
<text transform="translate(580.60,526.00) scale(0.965,1)" fill="#000" font-size="9.5px"  stroke="#000" stroke-width="0.1">1 Feb 04:00</text>
<text transform="translate(644.60,526.00) scale(0.965,1)" fill="#000" font-size="9.5px"  stroke="#000" stroke-width="0.1">4 Feb 08:00</text>
<text transform="translate(708.60,526.00) scale(0.965,1)" fill="#000" font-size="9.5px"  stroke="#000" stroke-width="0.1">5 Feb 16:00</text>
<text transform="translate(772.60,526.00) scale(0.965,1)" fill="#000" font-size="9.5px"  stroke="#000" stroke-width="0.1">7 Feb 00:00</text>
<text x="710.6" y="237.4" fill="#ff0000" font-size="19px" letter-spacing="1px" font-family="'Liberation Serif', 'Noto Serif CJK SC', serif">多空转折点<tspan font-size="18.5px" font-weight="400" letter-spacing="0.8px" dx="-0.3">2685</tspan></text>
</svg>
<svg id="trade" width="240" height="80" viewBox="0 40 240 80" style="position:absolute;left:0;top:40px" font-family="'Liberation Sans', sans-serif">
  <defs>
    <linearGradient id="gb" x1="0" y1="0" x2="0" y2="1"><stop offset="0" stop-color="#5656ff"/><stop offset="1" stop-color="#3a3ae6"/></linearGradient>
    <linearGradient id="gl" x1="0" y1="0" x2="0" y2="1"><stop offset="0" stop-color="#3838e2"/><stop offset="0.55" stop-color="#1414c4"/><stop offset="1" stop-color="#0000a6"/></linearGradient>
    <linearGradient id="gs" x1="0" y1="0" x2="0" y2="1"><stop offset="0" stop-color="#f2f2f2"/><stop offset="0.42" stop-color="#e4e4e4"/><stop offset="0.43" stop-color="#d8d8d8"/><stop offset="1" stop-color="#cfcfcf"/></linearGradient>
    <linearGradient id="ga" x1="0" y1="0" x2="0" y2="1"><stop offset="0" stop-color="#6a84e0"/><stop offset="1" stop-color="#2c3a90"/></linearGradient>
  </defs>
  <g shape-rendering="crispEdges">
    <!-- sell -->
    <rect x="8" y="50" width="52" height="25" fill="#0808b0"/>
    <rect x="9" y="51" width="50" height="24" fill="url(#gb)"/>
    <rect x="8" y="74" width="109" height="40" fill="#0606ac"/>
    <rect x="8" y="75" width="109" height="39" fill="url(#gl)"/>
    <rect x="9" y="74" width="50" height="1" fill="#3a3ae6"/>
    <rect x="12" y="73" width="44" height="1" fill="#0a0a98"/>
    <rect x="12" y="74" width="44" height="1" fill="#8080ff"/>
    <!-- buy -->
    <rect x="175" y="50" width="52" height="25" fill="#0808b0"/>
    <rect x="176" y="51" width="50" height="24" fill="url(#gb)"/>
    <rect x="119" y="74" width="108" height="40" fill="#0606ac"/>
    <rect x="119" y="75" width="108" height="39" fill="url(#gl)"/>
    <rect x="176" y="74" width="50" height="1" fill="#3a3ae6"/>
    <rect x="179" y="73" width="44" height="1" fill="#0a0a98"/>
    <rect x="179" y="74" width="44" height="1" fill="#8080ff"/>
    <!-- spinner -->
    <rect x="62" y="50" width="111" height="22" fill="#a9abb3"/>
    <rect x="63" y="51" width="109" height="20" fill="#fff"/>
    <rect x="83" y="51" width="1" height="20" fill="#a9abb3"/>
    <rect x="151" y="51" width="1" height="20" fill="#a9abb3"/>
    <rect x="64" y="52" width="18" height="18" fill="url(#gs)"/>
    <rect x="153" y="52" width="18" height="18" fill="url(#gs)"/>
  </g>
  <polygon points="69.7,59 75.3,59 72.5,62.3" fill="url(#ga)"/>
  <polygon points="158.7,62 164.3,62 161.5,58.7" fill="url(#ga)"/>
  <text transform="translate(20.5,66) scale(0.87,1)" font-size="12px" fill="#fff">SELL</text>
  <text transform="translate(188.3,66) scale(0.95,1)" font-size="12px" fill="#fff">BUY</text>
  <text transform="translate(148,65.2)" font-size="12px" fill="#000" text-anchor="end">1.00</text>
  <text transform="translate(24.2,104.6) scale(1.07,1)" font-size="11.5px" font-weight="bold" fill="#fff">2694</text>
  <text transform="translate(55.4,104.3) scale(0.97,1)" font-size="34px" fill="#fff">23</text>
  <text transform="translate(95.8,88.8) scale(1.05,1)" font-size="11px" font-weight="bold" fill="#fff">5</text>
  <text transform="translate(134.2,104.6) scale(1.07,1)" font-size="11.5px" font-weight="bold" fill="#fff">2695</text>
  <text transform="translate(164.8,104.3) scale(0.99,1)" font-size="34px" fill="#fff">01</text>
  <text transform="translate(207,88.8) scale(1.05,1)" font-size="11px" font-weight="bold" fill="#fff">5</text>
</svg>
</body>
</html>
